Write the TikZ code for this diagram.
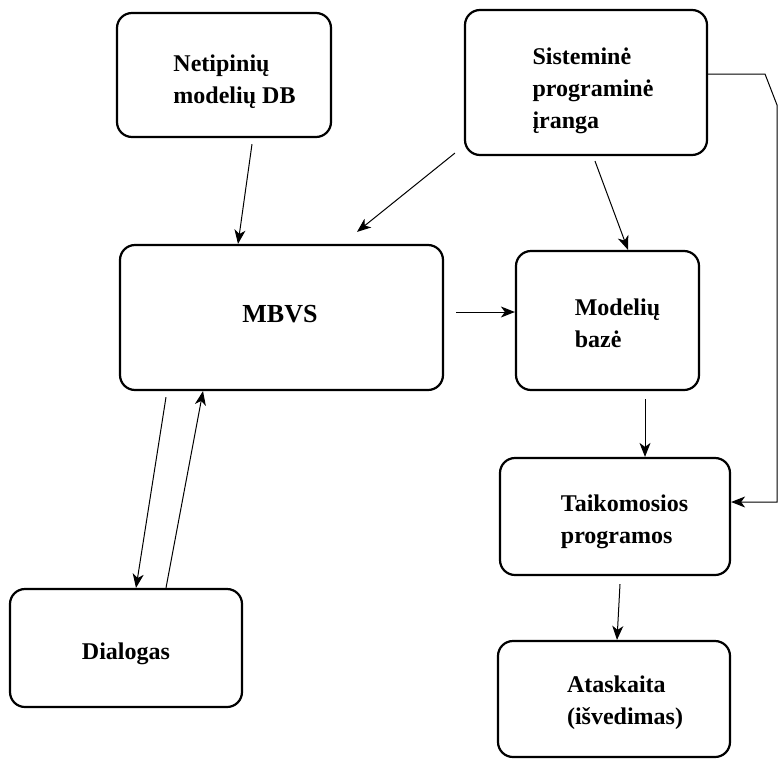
\documentclass[tikz,border=0pt]{standalone}
\usepackage{fontspec}
\setmainfont{Liberation Serif}
\usetikzlibrary{arrows.meta}

\tikzset{
  blokas/.style={draw, line width=2.2pt, rounded corners=15pt, inner sep=0pt},
  tekstas/.style={align=left, inner sep=0pt, font=\bfseries\fontsize{24}{32}\selectfont},
  rodykle/.style={line width=1pt, -{Stealth[length=14pt,width=11pt,inset=4pt]}}
}

\begin{document}
\begin{tikzpicture}[x=1pt, y=-1pt]
  \useasboundingbox (0,0) rectangle (779,758);

  % ==== blokai ====
  \node[blokas, minimum width=214pt, minimum height=124pt,
    label={[tekstas, xshift=10.5pt, yshift=-7pt]center:Netipinių\\modelių DB}] (net) at (224,75) {};
  \node[blokas, minimum width=242pt, minimum height=145pt,
    label={[tekstas, xshift=7pt, yshift=-8pt]center:Sisteminė\\programinė\\įranga}] (sys) at (586,82.5) {};
  \node[blokas, minimum width=323pt, minimum height=145pt,
    label={[tekstas, font=\bfseries\fontsize{26}{32}\selectfont, xshift=-1.5pt, yshift=3pt]center:MBVS}] (mbvs) at (281.5,317.5) {};
  \node[blokas, minimum width=183pt, minimum height=139pt,
    label={[tekstas, xshift=10pt, yshift=-3pt]center:Modelių\\bazė}] (mb) at (607.5,320.5) {};
  \node[blokas, minimum width=230pt, minimum height=117pt,
    label={[tekstas, xshift=9.5pt, yshift=-5pt]center:Taikomosios\\programos}] (taik) at (615,516.5) {};
  \node[blokas, minimum width=232pt, minimum height=118pt,
    label={[tekstas, yshift=-6pt]center:Dialogas}] (dial) at (126,648) {};
  \node[blokas, minimum width=232pt, minimum height=116pt,
    label={[tekstas, xshift=11pt, yshift=-4pt]center:Ataskaita\\(išvedimas)}] (atask) at (614,699) {};

  % ==== rodyklės ====
  \draw[rodykle] ([xshift=28pt,yshift=-6pt]net.south) -- ([xshift=-43.5pt]mbvs.north);
  \draw[rodykle] ([xshift=-9pt,yshift=3pt]sys.south west) -- ([xshift=75.5pt,yshift=12pt]mbvs.north);
  \draw[rodykle] ([xshift=9pt,yshift=-5pt]sys.south) -- ([xshift=20.5pt]mb.north);
  \draw[rodykle] ([xshift=12pt,yshift=5.5pt]mbvs.east) -- ([yshift=8.5pt]mb.west);
  \draw[rodykle] ([xshift=37.5pt,yshift=-8pt]mb.south) -- ([xshift=30pt]taik.north);
  \draw[rodykle] ([xshift=5pt,yshift=-8pt]taik.south) -- ([xshift=3pt]atask.north);

  % MBVS ir dialogas
  \draw[rodykle] ([xshift=-115.5pt,yshift=-6pt]mbvs.south) -- ([xshift=10pt]dial.north);
  \draw[rodykle] ([xshift=40pt]dial.north) -- ([xshift=-78.5pt]mbvs.south);

  % linija dešinėje
  \draw[rodykle] ([yshift=8.5pt]sys.east) -- (765,74) -- (777,105) |- ([yshift=14.5pt]taik.east);
\end{tikzpicture}
\end{document}
